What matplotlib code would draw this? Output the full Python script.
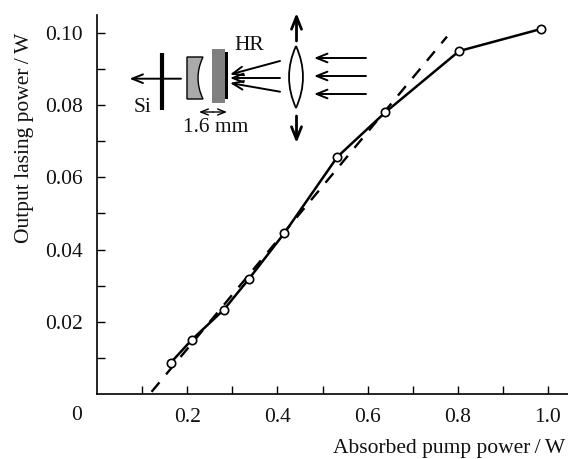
import matplotlib
matplotlib.use('Agg')
import matplotlib.pyplot as plt
import numpy as np
from matplotlib.patches import PathPatch, Rectangle
from matplotlib.path import Path

plt.rcParams['font.family'] = ['Liberation Serif', 'DejaVu Serif']

# measured points
pump_power = [0.163, 0.21, 0.2816, 0.337, 0.415, 0.533, 0.639, 0.803, 0.984]
lasing_power = [0.0086, 0.015, 0.0234, 0.0319, 0.0445, 0.0657, 0.078, 0.095, 0.1011]

# linear fit, dashed
fit_power = [0.121, 0.776]
fit_lasing = [0.0006, 0.099]

x_ticks = [0.1, 0.2, 0.3, 0.4, 0.5, 0.6, 0.7, 0.8, 0.9, 1.0]
x_tick_labels = ['', '0.2', '', '0.4', '', '0.6', '', '0.8', '', '1.0']
y_ticks = [0.01, 0.02, 0.03, 0.04, 0.05, 0.06, 0.07, 0.08, 0.09, 0.10]
y_tick_labels = ['', '0.02', '', '0.04', '', '0.06', '', '0.08', '', '0.10']

W, H = 568, 459
FS = 15.5
INK = '#111111'
fig = plt.figure(figsize=(W / 100, H / 100), dpi=100)
ax = fig.add_axes([97 / W, (H - 394) / H, 471 / W, 379 / H])
ax.set_xlim(0, 471 / 451)
ax.set_ylim(0, 379 / 3610)

ax.plot(fit_power, fit_lasing, color='black', linewidth=1.7, dashes=(5.2, 4.4))
ax.plot(pump_power, lasing_power, color='black', linewidth=1.8, marker='o',
        markersize=6, markerfacecolor='white', markeredgecolor='black', markeredgewidth=1.2)

for side in ['top', 'right']:
    ax.spines[side].set_visible(False)
for side in ['left', 'bottom']:
    ax.spines[side].set_linewidth(1.2)
ax.set_xticks(x_ticks, x_tick_labels)
ax.set_yticks(y_ticks, y_tick_labels)
ax.tick_params(direction='in', length=6, width=1.0, labelsize=FS, pad=10, labelcolor=INK)
ax.tick_params(axis='y', pad=10)

# overlay in pixel coords for the text and the cavity sketch
sk = fig.add_axes([0, 0, 1, 1])
sk.set_xlim(0, W)
sk.set_ylim(H, 0)
sk.axis('off')
sk.patch.set_alpha(0)

sk.text(77, 416, '0', ha='center', va='center', fontsize=FS, color=INK)
sk.text(565, 449, 'Absorbed pump power\u2009/\u2009W', ha='right', va='center', fontsize=FS, color=INK)
sk.text(25, 138, 'Output lasing power\u2009/\u2009W', ha='center', va='center',
        rotation=90, fontsize=FS, color=INK)
sk.text(249, 46, 'HR', ha='center', va='center', fontsize=FS, color=INK)
sk.text(143, 108, 'Si', ha='center', va='center', fontsize=FS, color=INK)
sk.text(215.5, 128, '1.6 mm', ha='center', va='center', fontsize=FS, color=INK)


def arrow(x0, y0, x1, y1, lw=1.4, scale=13):
    sk.annotate('', xy=(x1, y1), xytext=(x0, y0),
                arrowprops=dict(arrowstyle='->,head_length=0.6,head_width=0.24', color='black',
                                linewidth=lw, mutation_scale=scale, shrinkA=0, shrinkB=0))


# Si plate and output beam
arrow(181, 78.7, 129.5, 78.7)
sk.plot([162.3, 162.3], [53, 110], color='black', linewidth=3, solid_capstyle='butt')

# meniscus piece
meniscus = Path([(187, 57), (203, 57), (193, 78), (203, 99), (187, 99), (187, 57)],
                [Path.MOVETO, Path.LINETO, Path.CURVE3, Path.CURVE3, Path.LINETO, Path.CLOSEPOLY])
sk.add_patch(PathPatch(meniscus, facecolor='#aaaaaa', edgecolor='black', linewidth=1.0))

# crystal with HR coat
sk.add_patch(Rectangle((212.3, 49), 12.7, 54, facecolor='#808080', edgecolor='none'))
sk.add_patch(Rectangle((225, 52), 3, 47, facecolor='black', edgecolor='none'))

# gap marker
arrow(213, 112, 199, 112, lw=1.0, scale=9)
arrow(213, 112, 227, 112, lw=1.0, scale=9)

# focused beam
arrow(280, 61, 230, 74.5)
arrow(280, 78, 230, 78)
arrow(280, 91.7, 230, 83)

# lens
lens = Path([(296, 46), (282, 77), (296, 108), (310, 77), (296, 46)],
            [Path.MOVETO] + [Path.CURVE3] * 4)
sk.add_patch(PathPatch(lens, facecolor='white', edgecolor='black', linewidth=1.3))
arrow(296.5, 41, 296.5, 13, lw=2.0, scale=15)
arrow(296.5, 116, 296.5, 143, lw=2.0, scale=15)

# pump beams
for y in [58, 76, 94]:
    arrow(366, y, 314, y)

fig.savefig('out.png', dpi=100)
